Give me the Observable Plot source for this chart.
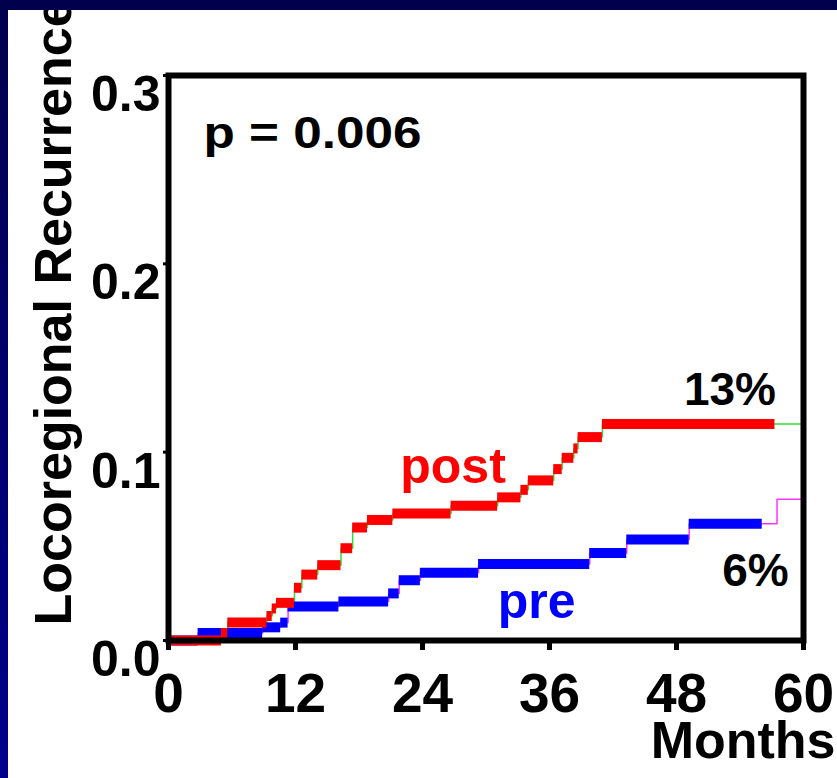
<!DOCTYPE html>
<html><head><meta charset="utf-8">
<script src="https://cdn.jsdelivr.net/npm/d3@7"></script>
<script src="https://cdn.jsdelivr.net/npm/@observablehq/plot@0.6"></script>
<style>
html,body{margin:0;padding:0;}
body{width:837px;height:778px;background:linear-gradient(to bottom,#00004c,#00008c);overflow:hidden;position:relative;}
#chart{position:absolute;left:8px;top:10px;width:829px;height:768px;background:#fff;}
</style></head><body><div id="chart"></div>
<script>
// post group: step start times (months) and cumulative recurrence
const postT = [0, 5.0, 5.6, 9.3, 9.8, 10.2, 11.9, 12.6, 14.1, 16.3, 17.4, 18.8, 21.2, 26.7, 31.1, 33.3, 34.0, 36.4, 37.2, 38.3, 38.7, 41.0];
const postV = [0, 0.004, 0.0095, 0.013, 0.017, 0.020, 0.028, 0.035, 0.040, 0.049, 0.060, 0.064, 0.0675, 0.0715, 0.076, 0.080, 0.085, 0.091, 0.097, 0.102, 0.108, 0.115];
const postEnd = 57.3;
// pre group
const preT = [0, 2.8, 8.9, 10.6, 11.3, 16.1, 20.8, 21.8, 23.8, 29.3, 39.8, 43.3, 49.2];
const preV = [0, 0.004, 0.007, 0.0095, 0.018, 0.0207, 0.025, 0.032, 0.036, 0.0406, 0.0465, 0.0536, 0.062];
const preEnd = 56.1;
const preTailT = [57.5];
const preTailV = [0.075];
const xMax = 60;
const xTicks = [0, 12, 24, 36, 48, 60];
const yTicks = [0, 0.1, 0.2, 0.3];
// annotations
const annText = ["post", "pre", "13%", "6%", "p = 0.006"];
const annX = [21.9, 31.1, 57.4, 58.6, 3.3];
const annY = [0.0834, 0.0117, 0.1248, 0.0292, 0.2613];
const annColor = ["#ff0000", "#0000ff", "#000000", "#000000", "#000000"];
const annAnchor = ["start", "start", "end", "end", "start"];
const annSize = [50, 50, 46, 46, 44];

function segs(T, V, end) {
  return T.map((t, i) => ({x1: t, x2: i < T.length - 1 ? T[i + 1] : end, y: V[i]}));
}
const postSegs = segs(postT, postV, postEnd);
const preSegs = segs(preT, preV, preEnd);
const postThin = postT.map((t, i) => ({x: t, y: postV[i]})).concat([{x: xMax, y: postV[postV.length - 1]}]);
const preThin = preT.map((t, i) => ({x: t, y: preV[i]}))
  .concat(preTailT.map((t, i) => ({x: t, y: preTailV[i]})))
  .concat([{x: xMax, y: preTailV[preTailV.length - 1]}]);
const ann = annText.map((s, i) => ({s, x: annX[i], y: annY[i], c: annColor[i], a: annAnchor[i], f: annSize[i]}));

const font = "'Liberation Sans', Arial, Helvetica, sans-serif";
const chart = Plot.plot({
  width: 829, height: 768,
  marginLeft: 160, marginRight: 34, marginTop: 65, marginBottom: 138,
  style: {fontFamily: font, fontWeight: "bold", background: "white", color: "black"},
  x: {domain: [0, xMax]},
  y: {domain: [0, 0.3]},
  marks: [
    Plot.line(preThin, {x: "x", y: "y", curve: "step-after", stroke: "#ff33ff", strokeWidth: 1.5}),
    Plot.line(postThin, {x: "x", y: "y", curve: "step-after", stroke: "#33dd33", strokeWidth: 1.5}),
    Plot.ruleY(preSegs, {y: "y", x1: "x1", x2: "x2", stroke: "#0000ff", strokeWidth: 10}),
    Plot.ruleY(postSegs, {y: "y", x1: "x1", x2: "x2", stroke: "#ff0000", strokeWidth: 10}),
    Plot.frame({stroke: "black", strokeWidth: 6}),
    Plot.axisX(xTicks, {tickSize: 10, tickPadding: 22, fontSize: 55, fontWeight: "bold", strokeWidth: 5, label: null}),
    Plot.axisY(yTicks, {tickSize: 5, tickPadding: 3, fontSize: 50, fontWeight: "bold", strokeWidth: 3, lineAnchor: "top", tickFormat: d => d.toFixed(1), label: null}),
    ...ann.map(d => Plot.text([d], {x: "x", y: "y", text: "s", fill: d.c, textAnchor: d.a, lineAnchor: "bottom", fontSize: d.f, fontWeight: "bold"})),
    Plot.text(["Months"], {frameAnchor: "bottom-right", textAnchor: "end", lineAnchor: "bottom", dx: 32, dy: 117, fontSize: 52, fontWeight: "bold", fill: "black"}),
    Plot.text(["Locoregional Recurrence"], {frameAnchor: "bottom-left", rotate: -90, textAnchor: "start", lineAnchor: "bottom", dx: -98, dy: -15, fontSize: 52, fontWeight: "bold", fill: "black"})
  ]
});
// the reference's p-value text is set wider than the font's natural width
chart.querySelectorAll("text").forEach(t => {
  if (t.textContent === "p = 0.006") { t.setAttribute("textLength", 218); t.setAttribute("lengthAdjust", "spacingAndGlyphs"); }
});
document.getElementById("chart").appendChild(chart);
</script></body></html>
